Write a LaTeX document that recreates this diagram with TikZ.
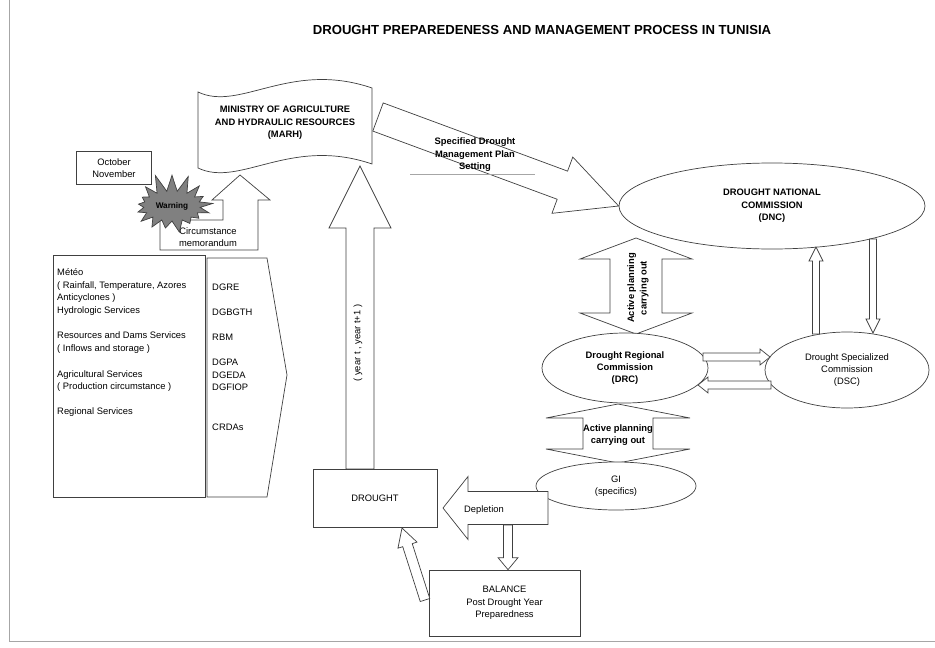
\documentclass[tikz,border=0pt]{standalone}
\usepackage{fontspec}
\setmainfont{Liberation Sans}
\usetikzlibrary{calc,shapes.geometric,shapes.symbols,backgrounds}

\tikzset{
  ln/.style={draw=black!75, line width=0.6pt},
  blk/.style={ln, fill=white},
  lbl/.style={inner sep=0pt, align=center, font=\fontsize{8}{10.6}\selectfont},
  blbl/.style={lbl, font=\fontsize{8}{10.6}\selectfont\bfseries},
  comm/.style={ellipse, blk, inner sep=0pt},
  boxx/.style={rectangle, blk, inner sep=0pt},
}

% block arrow: [opts]{tail}{tip}{shaft half width}{head half width}{head length}
\newcommand{\blockarrow}[6][]{%
  \coordinate (ba-h) at ($(#3)!#6!(#2)$);
  \path[blk,#1] ($(#2)!#4!90:(#3)$) -- ($(ba-h)!#4!-90:(#2)$) -- ($(ba-h)!#5!-90:(#2)$) -- (#3)
    -- ($(ba-h)!#5!90:(#2)$) -- ($(ba-h)!#4!90:(#2)$) -- ($(#2)!#4!-90:(#3)$) -- cycle;}
% double block arrow: [opts]{tip a}{tip b}{shaft half width}{head half width}{head length}
\newcommand{\dblarrow}[6][]{%
  \coordinate (da-a) at ($(#2)!#6!(#3)$);
  \coordinate (da-b) at ($(#3)!#6!(#2)$);
  \path[blk,#1] (#2) -- ($(da-a)!#5!90:(#3)$) -- ($(da-a)!#4!90:(#3)$) -- ($(da-b)!#4!-90:(#2)$)
    -- ($(da-b)!#5!-90:(#2)$) -- (#3) -- ($(da-b)!#5!90:(#2)$) -- ($(da-b)!#4!90:(#2)$)
    -- ($(da-a)!#4!-90:(#3)$) -- ($(da-a)!#5!-90:(#3)$) -- cycle;}

\begin{document}
\begin{tikzpicture}[x=0.3mm, y=-0.3mm]
    \useasboundingbox (0,0) rectangle (935,647);
    \draw [draw=black!35, line width=0.5pt] (9,0) -- (9,641) -- (935,641);	% page edge
    % % ----- title ----- % %
    \node [lbl, font=\fontsize{11.2}{13}\selectfont\bfseries] (title) at (542,30) {DROUGHT PREPAREDENESS AND MANAGEMENT PROCESS IN TUNISIA};
    % % ----- ministry ----- % %
    \draw [blk] (198,92) .. controls (240,112) and (290,60) .. (372,88) -- (372,164) .. controls (290,136) and (240,188) .. (198,168) -- cycle;
    \node [blbl] (marh) at (285,123) {MINISTRY OF AGRICULTURE\\AND HYDRAULIC RESOURCES\\(MARH)};
    % % ----- commissions ----- % %
    \node [comm, blbl, minimum width=91.8mm, minimum height=25.8mm] (dnc) at (772,206) {DROUGHT NATIONAL\\COMMISSION\\(DNC)};
    \node [comm, blbl, minimum width=49.8mm, minimum height=21mm] (drc) at (625,368) {Drought Regional\\Commission\\(DRC)};
    \node [comm, lbl, minimum width=49.2mm, minimum height=22.8mm] (dsc) at (847,370) {Drought Specialized\\Commission\\(DSC)};
    \node [comm, lbl, minimum width=48mm, minimum height=14.4mm] (gi) at (616,486) {GI\\(specifics)};
    % % ----- boxes ----- % %
    \node [boxx, lbl, minimum width=37.2mm, minimum height=17.4mm] (drought) at (375,498) {DROUGHT};
    \node [boxx, lbl, minimum width=45.3mm, minimum height=19.8mm] (balance) at (504.5,603) {BALANCE\\Post Drought Year\\Preparedness};
    \node [boxx, lbl, minimum width=22.5mm, minimum height=9.9mm] (month) at (114,168) {October\\November};
    % % ----- warning ----- % %
    \draw [blk] (160,250) -- (258,250) -- (258,200) -- (270,200) -- (240,175) -- (212,200) -- (223,200) -- (223,220) -- (160,220) -- cycle;	% callout
    \node [lbl] (memo) at (208,237) {Circumstance\\memorandum};
    \pgfmathsetseed{5}
    \node [starburst, ln, fill=black!50, starburst points=17, starburst point height=5.5mm, random starburst=50,
           minimum width=28mm, minimum height=20mm, inner sep=0pt, font=\fontsize{7}{8}\selectfont\bfseries] (warn) at (172,206) {Warning};
    % % ----- services ----- % %
    \node [boxx, minimum width=45.6mm, minimum height=72.6mm, anchor=north west] (src) at (53,255) {};
    \draw [blk] (207,258) -- (267,258) -- (287,375) -- (267,497) -- (207,497) -- cycle;	% chevron
    \foreach \y/\t in {275/Météo, 288/{( Rainfall, Temperature, Azores}, 300/Anticyclones ), 313/Hydrologic Services,
                       338/Resources and Dams Services, 351/( Inflows and storage ),
                       377/Agricultural Services, 389/( Production circumstance ), 414/Regional Services}
        \node [lbl, anchor=base west] (srv-\y) at (57,\y) {\t};
    \foreach \y/\t in {290/DGRE, 315/DGBGTH, 340/RBM, 365/DGPA, 378/DGEDA, 390/DGFIOP, 430/CRDAs}
        \node [lbl, anchor=base west] (dir-\y) at (212,\y) {\t};
    % % ----- arrows ----- % %
    \coordinate (plan-s) at (378,117);
    \coordinate (up-s) at (360,469);
    \coordinate (up-e) at (360,166);
    \coordinate (nat-a) at (636,238);
    \coordinate (nat-b) at (636,334);
    \coordinate (reg-a) at (618,404);
    \coordinate (reg-b) at (618,463);
    \coordinate (depl-s) at (548,508);
    \coordinate (depl-e) at (443,508);
    \begin{scope}[on background layer]
        \blockarrow{plan-s}{dnc.west}{4.5mm}{9mm}{18mm}		% plan setting
        \blockarrow{up-s}{up-e}{4.2mm}{9.3mm}{18.6mm}		% drought - ministry
        \dblarrow{nat-a}{nat-b}{7.8mm}{16.8mm}{6.3mm}		% dnc - drc
        \dblarrow{reg-a}{reg-b}{10.5mm}{21.6mm}{4.2mm}		% drc - gi
    \end{scope}
    \blockarrow{depl-s}{depl-e}{4.95mm}{9.45mm}{7.5mm}		% depletion
    \coordinate (depl-d) at (508,525);
    \blockarrow{depl-d}{balance.north -| depl-d}{1.35mm}{3mm}{3.6mm}	% depletion - balance
    \coordinate (bal-w) at (425,600);
    \coordinate (dro-s) at (402,528);
    \blockarrow{bal-w}{dro-s}{1.5mm}{3mm}{5.4mm}		% balance - drought
    \coordinate (drc-e1) at (703,357);
    \coordinate (dsc-w1) at (770,357);
    \coordinate (dsc-w2) at (771,385);
    \coordinate (drc-e2) at (698,385);
    \blockarrow{drc-e1}{dsc-w1}{1.2mm}{2.4mm}{3mm}		% drc - dsc
    \blockarrow{dsc-w2}{drc-e2}{1.2mm}{2.4mm}{3mm}		% dsc - drc
    \coordinate (dsc-n1) at (816,334);
    \coordinate (dnc-s1) at (816,247);
    \coordinate (dnc-s2) at (873,239);
    \coordinate (dsc-n2) at (873,333);
    \blockarrow{dsc-n1}{dnc-s1}{1.05mm}{2.1mm}{4.2mm}	% dsc - dnc
    \blockarrow{dnc-s2}{dsc-n2}{1.05mm}{2.1mm}{4.2mm}	% dnc - dsc
    % % ----- arrow texts ----- % %
    \node [blbl] (plan) at (475,155) {Specified Drought\\Management Plan\\Setting};
    \draw [draw=black!35, line width=0.5pt] (410,174) -- (535,174);
    \node [lbl, rotate=90] (years) at (358,343) {( year t , year t+1 )};
    \node [blbl, rotate=90] (act1) at (638,288) {Active planning\\carrying out};
    \node [blbl] (act2) at (618,435) {Active planning\\carrying out};
    \node [lbl] (depl) at (484,510) {Depletion};
\end{tikzpicture}
\end{document}
